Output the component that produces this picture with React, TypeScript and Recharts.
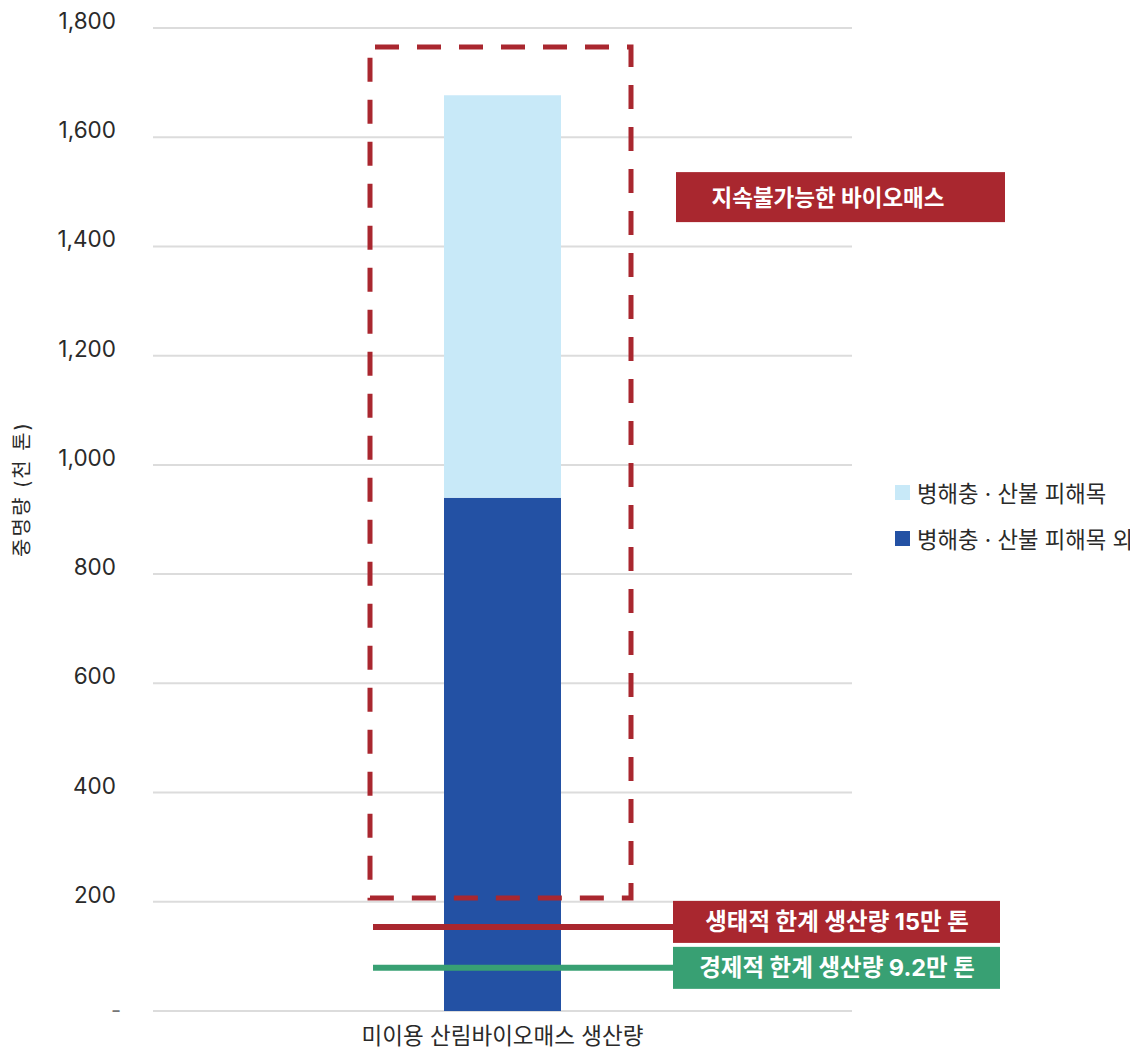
import React from 'react';
import {
  ComposedChart,
  Bar,
  XAxis,
  YAxis,
  CartesianGrid,
  ReferenceArea,
  ReferenceLine,
} from 'recharts';

// ---- data ----
const categories = ['미이용 산림바이오매스 생산량'];
const otherBiomass = [940]; // 병해충 · 산불 피해목 외
const damagedBiomass = [737]; // 병해충 · 산불 피해목
const seriesNames = ['병해충 · 산불 피해목', '병해충 · 산불 피해목 외'];
const yTicks = [0, 200, 400, 600, 800, 1000, 1200, 1400, 1600, 1800];
const yAxisLabel = '중명량 (천 톤)';
const unsustainableRange = [207, 1765];
const ecologicalLimit = 154;
const economicLimit = 79;
const annotationTexts = [
  '지속불가능한 바이오매스',
  '생태적 한계 생산량 15만 톤',
  '경제적 한계 생산량 9.2만 톤',
];

const data = categories.map((name, i) => ({
  name,
  other: otherBiomass[i],
  damaged: damagedBiomass[i],
}));

// ---- styles ----
const FONT = "Inter, 'Noto Sans CJK KR', sans-serif";
const RED = '#a9272f';
const GREEN = '#38a073';
const DARK_BLUE = '#2351a4';
const LIGHT_BLUE = '#c8e9f8';
const TEXT = '#2a2a2a';

const YTick = (props: any) => {
  const { x, y, payload } = props;
  const v = payload.value;
  if (v === 0) {
    return (
      <text x={x + 5} y={y + 7} textAnchor="end" fontSize={22} fill="#777" fontFamily={FONT}>
        -
      </text>
    );
  }
  return (
    <text x={x} y={y + 1} textAnchor="end" fontSize={22.5} fill={TEXT} fontFamily={FONT}>
      {v.toLocaleString('en-US')}
    </text>
  );
};

const XTick = (props: any) => {
  const { x, y, payload } = props;
  return (
    <text x={x} y={y + 24} textAnchor="middle" dominantBaseline="central" fontSize={22.5} fill={TEXT} fontFamily={FONT}>
      {payload.value}
    </text>
  );
};

const YLabel = () => (
  <text
    x={14}
    y={481}
    transform="rotate(-90 14 481)"
    textAnchor="middle"
    dominantBaseline="central"
    fontSize={20}
    letterSpacing={2}
    fill={TEXT}
    fontFamily={FONT}
  >
    {yAxisLabel}
  </text>
);

// dashed box: horizontal placement is a style offset from the plot's left edge
const BoxShape = (props: any) => {
  const { x, y, height } = props;
  const left = x + 217;
  const w = 261;
  const bx = left + w + 45;
  const by = y + 125;
  return (
    <g>
      <rect
        x={left}
        y={y}
        width={w}
        height={height}
        fill="none"
        stroke={RED}
        strokeWidth={5}
        strokeDasharray="24 18"
        strokeDashoffset={-5}
      />
      <rect x={bx} y={by} width={329} height={50} fill={RED} />
      <text x={bx + 152} y={by + 25} textAnchor="middle" dominantBaseline="central" fontSize={22.5} fontWeight={700} fill="#fff" fontFamily={FONT}>
        {annotationTexts[0]}
      </text>
    </g>
  );
};

const makeLimitShape = (text: string, color: string, offset: number) => (props: any) => {
  const { x1, y1 } = props;
  const lx1 = x1 + 220;
  const lx2 = x1 + 520;
  const cy = y1 + offset;
  return (
    <g>
      <line x1={lx1} y1={y1} x2={lx2} y2={y1} stroke={color} strokeWidth={6} />
      <rect x={lx2} y={cy - 21} width={327} height={42} fill={color} />
      <text x={lx2 + 164} y={cy} textAnchor="middle" dominantBaseline="central" fontSize={23.5} fontWeight={700} fill="#fff" fontFamily={FONT}>
        {text}
      </text>
    </g>
  );
};

const LegendBox = () => (
  <div style={{ position: 'absolute', left: 887, top: 461, fontFamily: FONT, fontSize: 22.3, color: TEXT }}>
    {[LIGHT_BLUE, DARK_BLUE].map((c, i) => (
      <div key={i} style={{ display: 'flex', alignItems: 'center', height: 46 }}>
        <span style={{ display: 'inline-block', width: 15, height: 15, background: c, marginRight: 7 }} />
        <span style={{ whiteSpace: 'nowrap' }}>{seriesNames[i]}</span>
      </div>
    ))}
  </div>
);

export default function App() {
  return (
    <div style={{ position: 'relative', width: 1130, height: 1040, background: '#fff' }}>
      <ComposedChart
        width={1130}
        height={1040}
        data={data}
        margin={{ top: 20, right: 286, bottom: 7, left: 0 }}
        barCategoryGap={0}
      >
        <CartesianGrid vertical={false} stroke="#dcdcdc" strokeWidth={2} />
        <XAxis
          dataKey="name"
          axisLine={false}
          tickLine={false}
          tickSize={0}
          tickMargin={0}
          height={30}
          tick={<XTick />}
        />
        <YAxis
          domain={[0, 1800]}
          ticks={yTicks}
          interval={0}
          width={145}
          axisLine={false}
          tickLine={false}
          tickSize={0}
          tickMargin={37}
          tick={<YTick />}
          label={<YLabel />}
        />
        <Bar dataKey="other" stackId="a" name={seriesNames[1]} fill={DARK_BLUE} barSize={117} isAnimationActive={false} />
        <Bar dataKey="damaged" stackId="a" name={seriesNames[0]} fill={LIGHT_BLUE} barSize={117} isAnimationActive={false} />
        <ReferenceArea
          y1={unsustainableRange[0]}
          y2={unsustainableRange[1]}
          ifOverflow="visible"
          shape={BoxShape}
          zIndex={900}
        />
        <ReferenceLine
          y={ecologicalLimit}
          ifOverflow="visible"
          shape={makeLimitShape(annotationTexts[1], RED, -5)}
          zIndex={900}
        />
        <ReferenceLine
          y={economicLimit}
          ifOverflow="visible"
          shape={makeLimitShape(annotationTexts[2], GREEN, 0)}
          zIndex={900}
        />
      </ComposedChart>
      <LegendBox />
    </div>
  );
}
